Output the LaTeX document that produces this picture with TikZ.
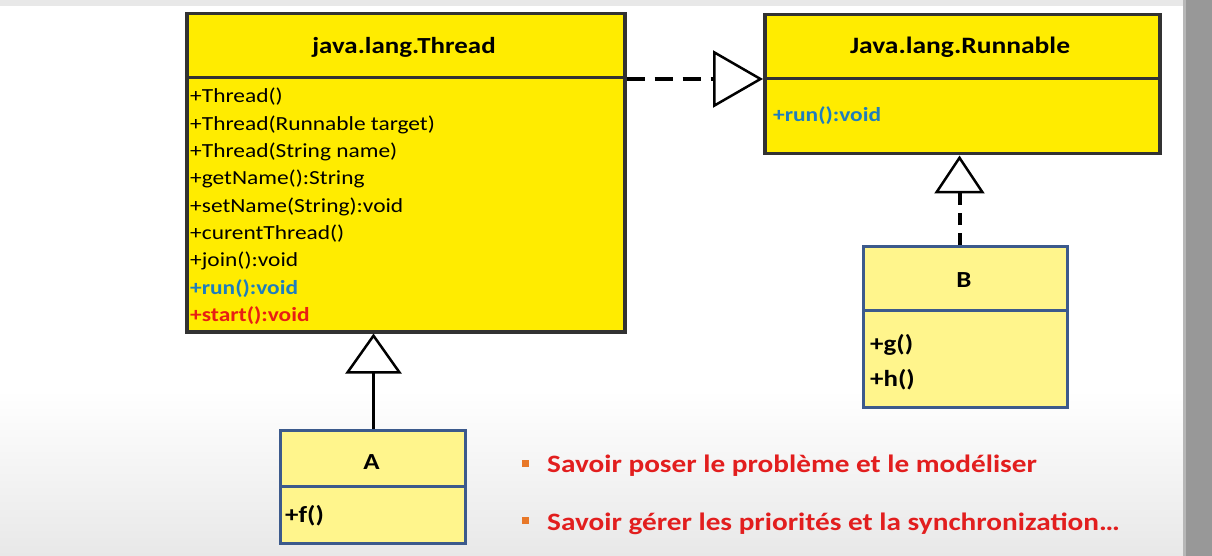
\documentclass[tikz,border=0pt]{standalone}
\usepackage{fontspec}
\setmainfont{Carlito}[FakeStretch=1.17]
\usetikzlibrary{arrows.meta,calc}
\definecolor{umlyellow}{RGB}{255,236,0}
\definecolor{paleyellow}{RGB}{255,245,140}
\definecolor{darkframe}{RGB}{50,50,50}
\definecolor{blueframe}{RGB}{60,90,140}
\definecolor{methodblue}{RGB}{30,125,190}
\definecolor{methodred}{RGB}{232,30,20}
\definecolor{bulletred}{RGB}{226,30,30}
\definecolor{bulletorange}{RGB}{232,120,40}
\definecolor{sidebar}{RGB}{152,152,152}
\definecolor{floorgray}{RGB}{232,232,232}
\begin{document}
\begin{tikzpicture}[x=1pt,y=-1pt,
  bigclass/.style={draw=darkframe, line width=3.5pt, fill=umlyellow, inner sep=0pt, anchor=north west},
  smallclass/.style={draw=blueframe, line width=3pt, fill=paleyellow, inner sep=0pt, anchor=north west},
  title/.style={anchor=base, inner sep=0pt, font=\fontsize{23}{28}\selectfont\bfseries},
  member/.style={anchor=base west, inner sep=0pt, font=\fontsize{20}{27}\selectfont},
  boldmember/.style={anchor=base west, inner sep=0pt, font=\fontsize{20}{27}\selectfont\bfseries},
  bigmember/.style={anchor=base west, inner sep=0pt, font=\fontsize{23}{28}\selectfont\bfseries},
  bullettext/.style={anchor=base west, inner sep=0pt, text=bulletred, font=\fontsize{25}{28}\selectfont\bfseries},
  bulletmark/.style={fill=bulletorange, inner sep=0pt, minimum size=7pt},
  realizes/.style={line width=4pt, dash pattern=on 18pt off 10pt,
    -{Triangle[length=50pt, width=57pt, fill=white, line width=2.5pt]}},
  realizesv/.style={line width=4pt, dash pattern=on 12pt off 8pt,
    -{Triangle[length=38pt, width=50pt, fill=white, line width=2.5pt]}},
  inherits/.style={line width=3pt,
    -{Triangle[length=40pt, width=56pt, fill=white, line width=2.5pt]}}]
\useasboundingbox (0,0) rectangle (1212,556);
% backdrop
\fill[white] (0,0) rectangle (1212,556);
\shade[top color=white, bottom color=floorgray] (0,390) rectangle (1183,556);
\fill[floorgray] (0,0) rectangle (1183,6);
\fill[sidebar] (1183,0) rectangle (1212,556);
\fill[sidebar!70] (1183,0) rectangle (1186,556);

% java.lang.Thread
\node[bigclass, minimum width=438pt, minimum height=318pt] (thread) at (185,12) {};
\draw[darkframe, line width=3pt] ($(thread.north west)+(0,66)$) coordinate (tdivw) -- ($(thread.north east)+(0,66)$) coordinate (tdive);
\node[title] (threadtitle) at (404,54) {java.lang.Thread};
\node[member] (m1) at (190,103.0) {+Thread()};
\node[member] (m2) at (190,130.3) {+Thread(Runnable target)};
\node[member] (m3) at (190,157.6) {+Thread(String name)};
\node[member] (m4) at (190,184.9) {+getName():String};
\node[member] (m5) at (190,212.2) {+setName(String):void};
\node[member] (m6) at (190,239.5) {+curentThread()};
\node[member] (m7) at (190,266.8) {+join():void};
\node[boldmember, text=methodblue] (m8) at (190,294.1) {+run():void};
\node[boldmember, text=methodred] (m9) at (190,321.4) {+start():void};

% Java.lang.Runnable
\node[bigclass, minimum width=395pt, minimum height=139pt] (runnable) at (763,13) {};
\draw[darkframe, line width=3pt] ($(runnable.north west)+(0,66)$) coordinate (rdivw) -- ($(runnable.north east)+(0,66)$) coordinate (rdive);
\node[title, font=\fontsize{23.5}{28}\selectfont\bfseries] (runtitle) at (960,54) {Java.lang.Runnable};
\node[boldmember, text=methodblue] (r1) at (773,122) {+run():void};

% class B
\node[smallclass, minimum width=204pt, minimum height=161pt] (b) at (862,245) {};
\draw[blueframe, line width=3pt] ($(b.north west)+(0,65)$) -- ($(b.north east)+(0,65)$);
\node[title] (btitle) at (964,287) {B};
\node[bigmember] (bg) at (870,351) {+g()};
\node[bigmember] (bh) at (870,386) {+h()};

% class A
\node[smallclass, minimum width=185pt, minimum height=113pt] (a) at (279,429) {};
\draw[blueframe, line width=3pt] ($(a.north west)+(0,57)$) -- ($(a.north east)+(0,57)$);
\node[title] (atitle) at (371.5,469) {A};
\node[bigmember] (af) at (285,522) {+f()};

% relations
\draw[realizes] (thread.east |- rdivw) -- (rdivw);
\draw[realizesv] ($(b.north)+(-6,0)$) coordinate (bup) -- (runnable.south -| bup);
\draw[inherits] ($(a.north)+(0.5,0)$) coordinate (aup) -- (thread.south -| aup);

% notes
\node[bulletmark] (k1) at (525,463) {};
\node[bullettext] (t1) at (547,472) {Savoir poser le problème et le modéliser};
\node[bulletmark] (k2) at (525,520) {};
\node[bullettext] (t2) at (547,530) {Savoir gérer les priorités et la synchronization…};
\end{tikzpicture}
\end{document}
